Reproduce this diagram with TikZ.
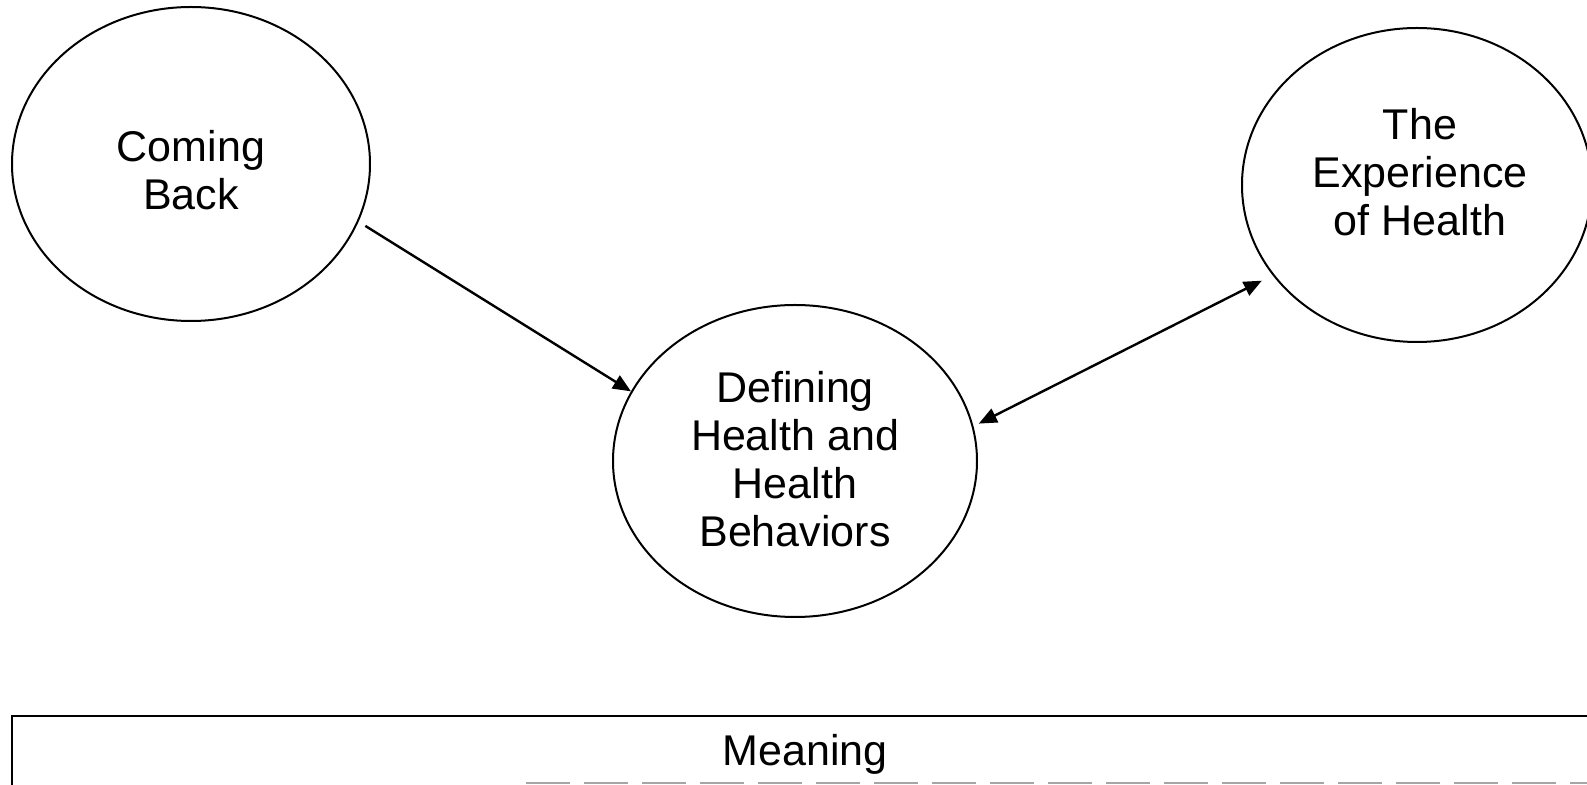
\documentclass[tikz,border=0pt]{standalone}
\usepackage{fontspec}
\setmainfont{Liberation Sans}
\usetikzlibrary{shapes.geometric,arrows.meta}
\tikzset{
  bubble/.style={draw, ellipse, line width=1pt, inner sep=0pt},
  txt/.style={font=\fontsize{21.5}{24}\selectfont, align=center, inner sep=0pt},
  tip/.style={Triangle[length=9pt,width=7.5pt]},
  conn/.style={line width=1.2pt, -{Triangle[length=9pt,width=7.5pt]}},
  dconn/.style={line width=1.2pt, {Triangle[length=9pt,width=7.5pt]}-{Triangle[length=9pt,width=7.5pt]}}
}
\begin{document}
\begin{tikzpicture}[x=0.5pt,y=-0.5pt]
\useasboundingbox (0,0) rectangle (1587,785);
\node[bubble, minimum width=179pt, minimum height=157pt] (cb) at (191,164) {};
\node[txt] (cbt) at (191,170) {Coming\\Back};
\node[bubble, minimum width=175pt, minimum height=157pt] (exp) at (1417,185) {};
\node[txt] (expt) at (1420,172) {The\\Experience\\of Health};
\node[bubble, minimum width=182pt, minimum height=156pt] (def) at (795,461) {};
\node[txt] (deft) at (795,459) {Defining\\Health and\\Health\\Behaviors};
\draw[conn, shorten <=4pt] (cb.-19.3) -- (def.157.6);
\draw[dconn, shorten <=3pt, shorten >=6pt] (def.11.7) -- (exp.212.8);
\node[draw, line width=1.1pt, rectangle, anchor=north west, minimum width=800pt, minimum height=60pt, inner sep=0pt] (box) at (11,715) {};
\node[txt] (mean) at (805,754) {Meaning};
\draw[gray!70, line width=0.9pt, dash pattern=on 22pt off 7pt] (526,783) -- (1587,783);
\end{tikzpicture}
\end{document}
